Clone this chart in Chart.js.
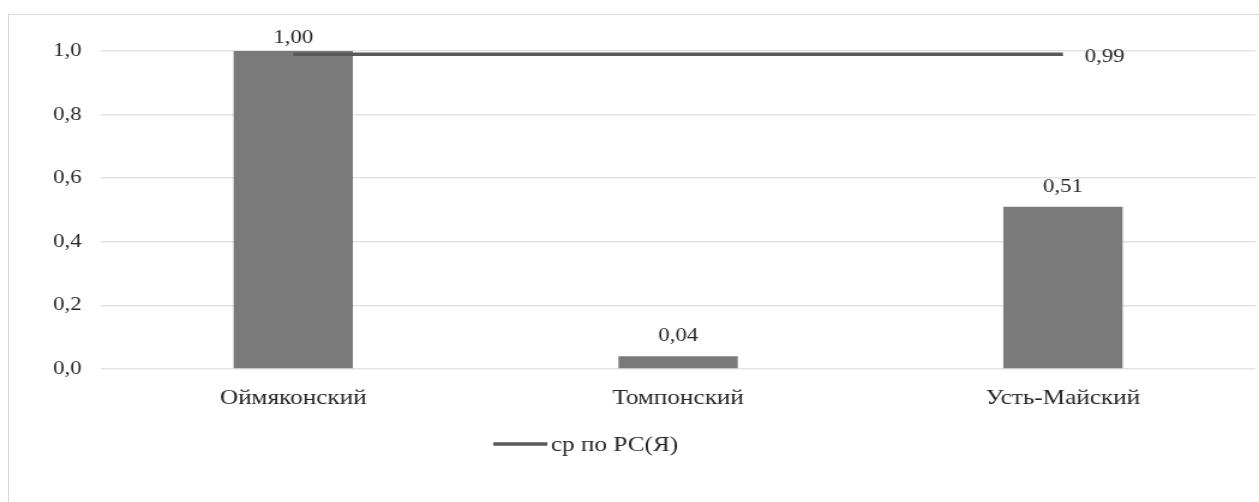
<!DOCTYPE html>
<html>
<head>
<meta charset="utf-8">
<script src="https://cdn.jsdelivr.net/npm/chart.js@4"></script>
<style>
    html, body { margin: 0; padding: 0; background: #fff; overflow: hidden; }
    #frame {
        position: absolute; left: 8px; top: 14px; width: 1400px; height: 600px;
        border: 1px solid #d9d9d9; box-sizing: border-box;
    }
    /* исходная картинка растянута по горизонтали */
    #wrap {
        position: absolute; left: 0; top: 0; width: 1049px; height: 502px;
        transform: scaleX(1.2002); transform-origin: 0 0;
    }
</style>
</head>
<body>
<div id="frame"></div>
<div id="wrap"><canvas id="chart"></canvas></div>
<script>
// данные
const categories = ['Оймяконский', 'Томпонский', 'Усть-Майский'];
const districtValues = [1.00, 0.04, 0.51];
const averageValues = [0.99, 0.99, 0.99];
const averageLabel = 'ср по РС(Я)';
const yTicks = [0, 0.2, 0.4, 0.6, 0.8, 1.0];

const FONT = '"Liberation Serif", "Times New Roman", serif';
const TEXT = '#262626';

const fmt = (v, d) => v.toFixed(d).replace('.', ',');

// подписи значений и легенда
const labelsPlugin = {
    id: 'valueLabels',
    afterDatasetsDraw(chart) {
        const ctx = chart.ctx;
        ctx.save();
        ctx.fillStyle = TEXT;
        ctx.font = '19px ' + FONT;

        // столбцы
        const barMeta = chart.getDatasetMeta(0);
        ctx.textAlign = 'center';
        ctx.textBaseline = 'alphabetic';
        barMeta.data.forEach((bar, i) => {
            const y = Math.max(bar.y - 15, 43);
            ctx.fillText(fmt(districtValues[i], 2), bar.x, y);
        });

        // линия — подпись у последней точки
        const lineMeta = chart.getDatasetMeta(1);
        const last = lineMeta.data[lineMeta.data.length - 1];
        ctx.textAlign = 'left';
        ctx.textBaseline = 'middle';
        ctx.fillText(fmt(averageValues[averageValues.length - 1], 2), last.x + 18, last.y + 3);

        // легенда
        const lx = 411, ly = 444;
        ctx.strokeStyle = '#595959';
        ctx.lineWidth = 3.5;
        ctx.beginPath();
        ctx.moveTo(lx, ly);
        ctx.lineTo(lx + 45, ly);
        ctx.stroke();
        ctx.font = '21px ' + FONT;
        ctx.fillText(averageLabel, lx + 48, ly + 1);
        ctx.restore();
    }
};

const ctx = document.getElementById('chart').getContext('2d');
new Chart(ctx, {
    type: 'bar',
    data: {
        labels: categories,
        datasets: [
            {
                type: 'bar',
                label: 'значение',
                data: districtValues,
                backgroundColor: '#7a7a7a',
                borderWidth: 0,
                barPercentage: 0.31,
                categoryPercentage: 1,
                order: 1
            },
            {
                type: 'line',
                label: averageLabel,
                data: averageValues,
                borderColor: '#595959',
                borderWidth: 3.5,
                pointRadius: 0,
                fill: false,
                order: 0
            }
        ]
    },
    options: {
        responsive: true,
        maintainAspectRatio: false,
        animation: false,
        layout: { padding: { top: 51, right: 3, bottom: 93, left: 0 } },
        scales: {
            x: {
                grid: { display: false },
                border: { display: false },
                ticks: { color: TEXT, font: { family: FONT, size: 21 }, padding: 9 },
                afterFit: s => { s.height = 40; }
            },
            y: {
                min: 0,
                max: 1,
                afterBuildTicks: s => { s.ticks = yTicks.map(v => ({ value: v })); },
                afterFit: s => { s.width = 84; },
                grid: { color: '#e3e3e3', lineWidth: 1.5, drawTicks: false },
                border: { display: false },
                ticks: {
                    color: TEXT,
                    font: { family: FONT, size: 19 },
                    padding: 16,
                    callback: v => fmt(v, 1)
                }
            }
        },
        plugins: {
            legend: { display: false },
            tooltip: { enabled: false }
        }
    },
    plugins: [labelsPlugin]
});
</script>
</body>
</html>
